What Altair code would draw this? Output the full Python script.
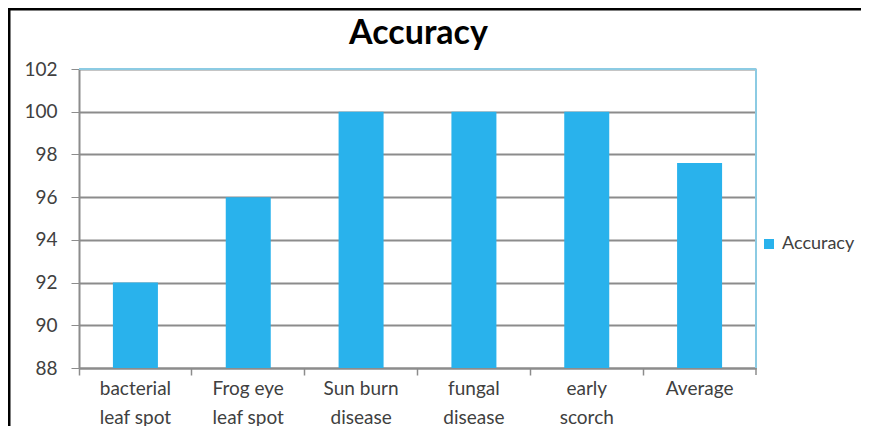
import altair as alt
import pandas as pd

categories = ["bacterial|leaf spot", "Frog eye|leaf spot", "Sun burn|disease",
              "fungal|disease", "early|scorch", "Average"]
accuracy = [92, 96, 100, 100, 100, 97.6]
series = ["Accuracy"] * len(categories)
y_ticks = [88, 90, 92, 94, 96, 98, 100, 102]
title_text = "Accuracy"

df = pd.DataFrame({"category": categories, "value": accuracy, "series": series})

W, H = 677, 299
FONT = "Lato"
one = pd.DataFrame({"a": [0]})

bars = alt.Chart(df).mark_bar(size=45, clip=True).encode(
    x=alt.X("category:N", sort=categories, title=None,
            scale=alt.Scale(paddingInner=0, paddingOuter=0),
            axis=alt.Axis(labelExpr="split(datum.label, '|')", labelAngle=0,
                          labelFont=FONT, labelFontSize=19, labelColor="#404040",
                          labelLineHeight=29, labelPadding=4, labelBaseline="top",
                          bandPosition=0, tickSize=7, tickColor="#8c8c8c",
                          domainColor="#8c8c8c", domainWidth=2, tickWidth=1.5,
                          grid=False)),
    y=alt.Y("value:Q", title=None,
            scale=alt.Scale(domain=[88, 102], nice=False, zero=False),
            axis=alt.Axis(values=y_ticks, labelFont=FONT, labelFontSize=19,
                          labelColor="#404040", tickSize=8, tickColor="#8c8c8c",
                          domainColor="#8c8c8c", domainWidth=2, labelPadding=14,
                          gridColor="#8c8c8c", gridWidth=2)),
    color=alt.Color("series:N", title=None,
                    scale=alt.Scale(domain=["Accuracy"], range=["#29B2EC"]),
                    legend=alt.Legend(orient="none", legendX=681, legendY=166,
                                      symbolType="square", symbolSize=100,
                                      labelFont=FONT, labelFontSize=18,
                                      labelColor="#404040", labelOffset=4)),
)

# blue top/right border of plot area
border = alt.Chart(one).mark_rule(color="#8ccbe3", strokeWidth=2).encode(
    x=alt.value(0), x2=alt.value(W), y=alt.value(0), y2=alt.value(0))
border_r = alt.Chart(one).mark_rule(color="#8ccbe3", strokeWidth=2).encode(
    x=alt.value(W), y=alt.value(0), y2=alt.value(H))
end_tick = alt.Chart(one).mark_rule(color="#8c8c8c", strokeWidth=1.5).encode(
    x=alt.value(W), y=alt.value(H), y2=alt.value(H + 7))

# black picture frame (top and left)
frame_top = alt.Chart(one).mark_rule(color="#000000", strokeWidth=3, clip=False).encode(
    x=alt.value(-71), x2=alt.value(800), y=alt.value(-60), y2=alt.value(-60))
frame_left = alt.Chart(one).mark_rule(color="#000000", strokeWidth=3, clip=False).encode(
    x=alt.value(-70), y=alt.value(-61), y2=alt.value(360))

title = alt.Chart(one).mark_text(font=FONT, fontSize=34, fontWeight="bold",
                                 color="#000000", align="center", baseline="middle",
                                 clip=False).encode(
    x=alt.value(W / 2 + 1), y=alt.value(-35), text=alt.value(title_text))

chart = alt.layer(bars, border, border_r, end_tick, frame_top, frame_left, title).properties(
    width=W, height=H,
    padding={"left": 71, "top": 61, "right": 105, "bottom": 58},
    autosize=alt.AutoSizeParams(type="none"),
).configure_view(stroke=None)

chart.save("out.html", embed_options={"renderer": "svg", "actions": False})
